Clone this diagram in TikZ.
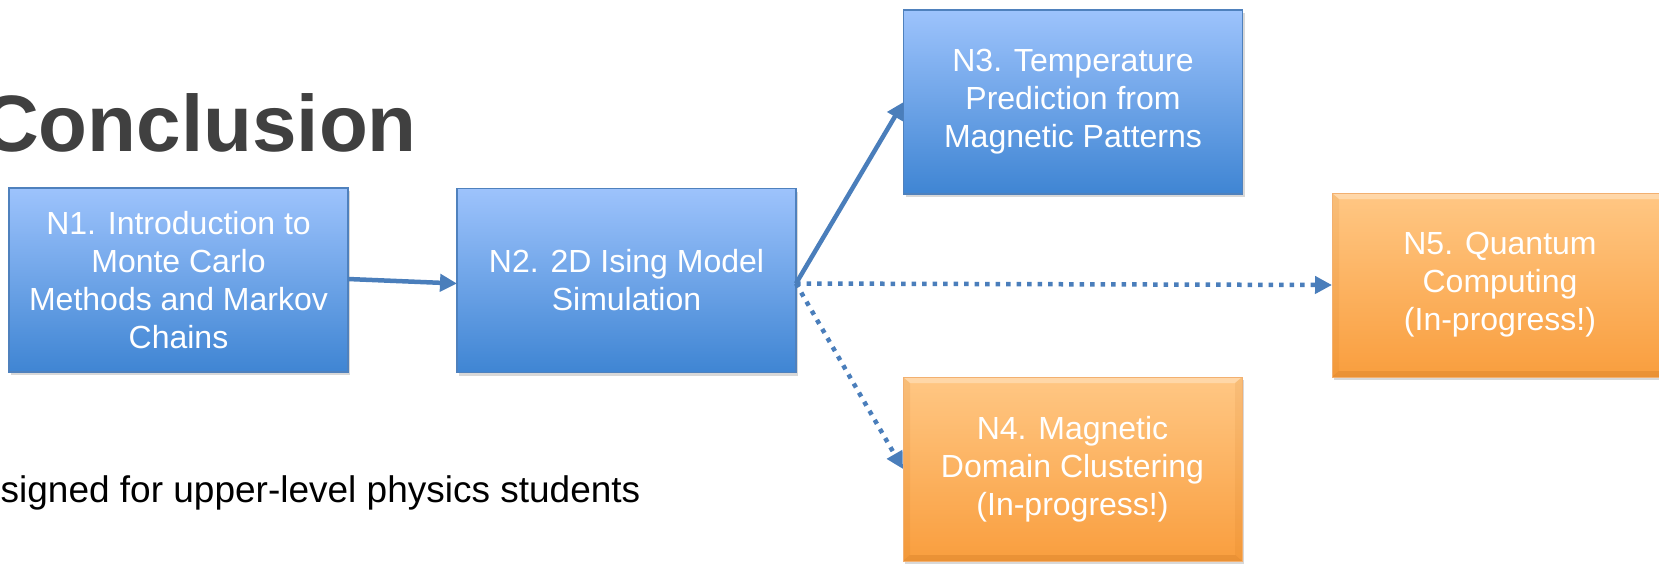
\documentclass[tikz,border=0pt]{standalone}
\usepackage{fontspec}
\setmainfont{Liberation Sans}
\usetikzlibrary{arrows.meta,shadows}
\definecolor{lineblue}{HTML}{4A7EBB}
\definecolor{bluetop}{HTML}{9DC3FC}
\definecolor{bluemid}{HTML}{80B1F2}
\definecolor{bluebot}{HTML}{3F85D3}
\definecolor{blueedge}{HTML}{4F81BD}
\definecolor{orangetop}{HTML}{FFC784}
\definecolor{orangemid}{HTML}{FDB86E}
\definecolor{orangebot}{HTML}{F99E3E}
\definecolor{orangeedge}{HTML}{F2B070}
\definecolor{titlegray}{HTML}{404040}
\tikzset{
  box/.style={rectangle, minimum width=339pt, minimum height=184pt, inner sep=0pt, outer sep=0pt,
    align=center, text=white, font=\fontsize{32}{38}\selectfont, line width=1.2pt,
    drop shadow={shadow xshift=2pt, shadow yshift=-3pt, opacity=0.3}},
  bluebox/.style={box, draw=blueedge, top color=bluetop, middle color=bluemid, bottom color=bluebot},
  orangebox/.style={box, draw=orangeedge, line width=0.8pt, top color=orangetop, middle color=orangemid, bottom color=orangebot,
    path picture={
      \fill[white,opacity=0.3] (path picture bounding box.north west) -- (path picture bounding box.north east)
        -- ([shift={(-7pt,-6pt)}]path picture bounding box.north east) -- ([shift={(7pt,-6pt)}]path picture bounding box.north west) -- cycle;
      \fill[black!40!orange,opacity=0.15] (path picture bounding box.south west) -- (path picture bounding box.south east)
        -- ([shift={(-7pt,6pt)}]path picture bounding box.south east) -- ([shift={(7pt,6pt)}]path picture bounding box.south west) -- cycle;
      \fill[black!30!orange,opacity=0.08] (path picture bounding box.north west) -- ([shift={(7pt,-6pt)}]path picture bounding box.north west)
        -- ([shift={(7pt,6pt)}]path picture bounding box.south west) -- (path picture bounding box.south west) -- cycle;
      \fill[black!30!orange,opacity=0.08] (path picture bounding box.north east) -- ([shift={(-7pt,-6pt)}]path picture bounding box.north east)
        -- ([shift={(-7pt,6pt)}]path picture bounding box.south east) -- (path picture bounding box.south east) -- cycle;
    }},
  conn/.style={draw=lineblue, line width=4.5pt, -{Triangle[length=17pt,width=17pt]}},
  dotconn/.style={conn, dash pattern=on 4.5pt off 6pt}
}
\begin{document}
\begin{tikzpicture}[x=1pt,y=-1pt]
\useasboundingbox (0,0) rectangle (1659,563);
\clip (0,0) rectangle (1659,563);
\fill[white] (0,0) rectangle (1659,563);

\node[anchor=base west, inner sep=0pt, text=titlegray, font=\bfseries\fontsize{80}{96}\selectfont] (title) at (-19,151) {Conclusion};
\node[anchor=base west, inner sep=0pt, text=black, font=\fontsize{37}{44}\selectfont] (body) at (0.5,502) {signed for upper-level physics students};

\node[bluebox] (n1) at (178.5,280) {N1. Introduction to\\Monte Carlo\\Methods and Markov\\Chains};
\node[bluebox] (n2) at (626.5,280.5) {N2. 2D Ising Model\\Simulation};
\node[bluebox] (n3) at (1073,102) {N3. Temperature\\Prediction from\\Magnetic Patterns};
\node[orangebox] (n4) at (1072.5,469) {N4. Magnetic\\Domain Clustering\\(In-progress!)};
\node[orangebox, minimum width=336pt] (n5) at (1500,285) {N5. Quantum\\Computing\\(In-progress!)};

\coordinate (n2out) at ([yshift=-3pt]n2.east);
\draw[conn] ([yshift=1pt]n1.east) -- ([yshift=-3pt]n2.west);
\draw[conn] (n2out) -- (n3.west);
\draw[dotconn] (n2out) -- (n5.west);
\draw[dotconn] (n2out) -- (n4.west);
\end{tikzpicture}
\end{document}
